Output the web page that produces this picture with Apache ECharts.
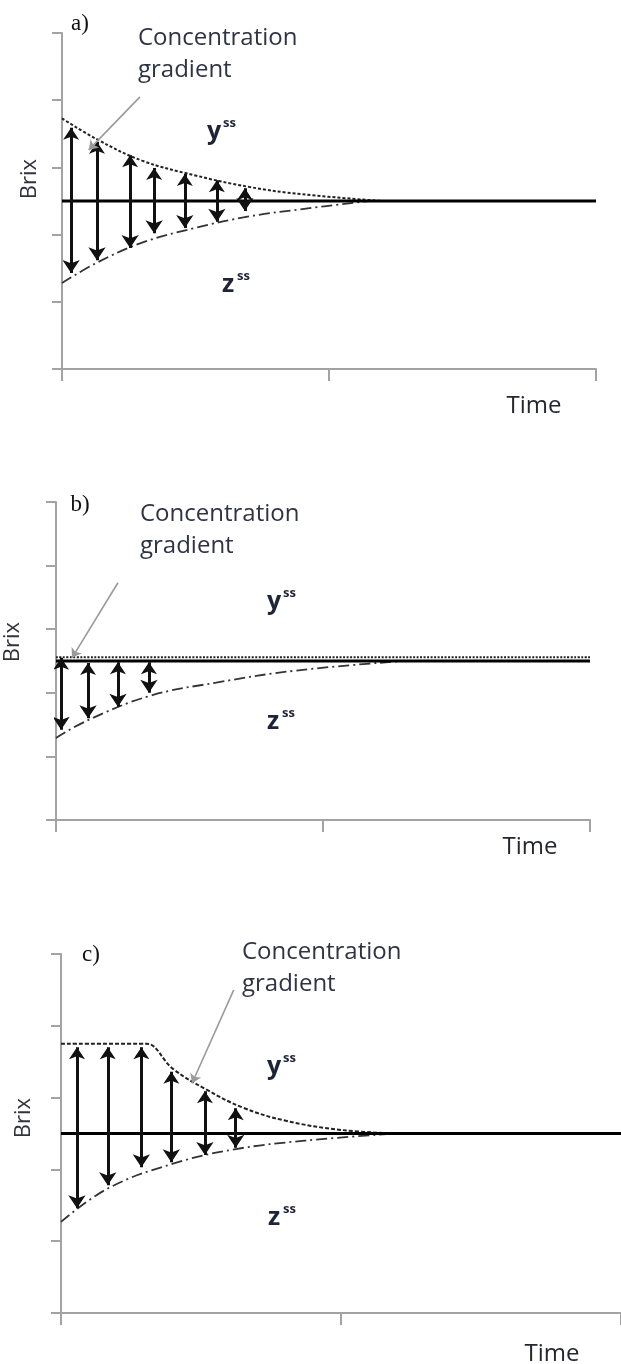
<!DOCTYPE html>
<html>
<head>
<meta charset="utf-8">
<script src="https://cdn.jsdelivr.net/npm/echarts@6/dist/echarts.min.js"></script>
<style>
  html, body { margin: 0; padding: 0; background: #fff; }
  #main { width: 621px; height: 1364px; }
</style>
</head>
<body>
<div id="main"></div>
<script>
// steady-state level (solid line) shared by all panels
const steadyLevel = 2.5;
const timeRange = [0, 2];

// panel a) : both phases decay towards the steady level
const aUpperX = [0, 0.13, 0.3, 0.5, 0.7, 0.9, 1.2];
const aUpperY = [3.73, 3.42, 3.10, 2.88, 2.71, 2.60, 2.5];
const aLowerX = [0, 0.13, 0.3, 0.5, 0.7, 0.9, 1.15];
const aLowerY = [1.28, 1.58, 1.88, 2.10, 2.27, 2.38, 2.5];
const aArrowX = [0.034, 0.131, 0.255, 0.345, 0.46, 0.58, 0.685];
const aArrowTop = [3.59, 3.38, 3.18, 2.99, 2.90, 2.81, 2.69];
const aArrowBottom = [1.43, 1.62, 1.80, 2.02, 2.10, 2.19, 2.35];

// panel b) : upper phase already at steady state
const bUpperX = [0, 2];
const bUpperY = [2.56, 2.56];
const bLowerX = [0, 0.12, 0.35, 0.6, 0.9, 1.3];
const bLowerY = [1.29, 1.57, 1.95, 2.16, 2.35, 2.5];
const bArrowX = [0.019, 0.12, 0.232, 0.348];
const bArrowTop = [2.55, 2.47, 2.48, 2.48];
const bArrowBottom = [1.42, 1.60, 1.78, 2.0];

// panel c) : upper phase held constant, then decays
const cUpperX = [0, 0.28, 0.305, 0.4, 0.52, 0.65, 0.8, 1.0, 1.2];
const cUpperY = [3.75, 3.75, 3.75, 3.40, 3.11, 2.86, 2.68, 2.55, 2.5];
const cLowerX = [0, 0.17, 0.4, 0.62, 0.87, 1.2];
const cLowerY = [1.27, 1.74, 2.08, 2.28, 2.40, 2.5];
const cArrowX = [0.057, 0.167, 0.287, 0.394, 0.514, 0.624];
const cArrowTop = [3.70, 3.70, 3.70, 3.36, 3.09, 2.85];
const cArrowBottom = [1.46, 1.78, 2.03, 2.10, 2.20, 2.30];

// "Concentration gradient" pointer, [from, to] in data units
const aPointer = [[0.292, 4.05], [0.10, 3.26]];
const bPointer = [[0.232, 3.73], [0.06, 2.55]];
const cPointer = [[0.617, 4.50], [0.468, 3.20]];

const panelLetters = ['a)', 'b)', 'c)'];

const pair = (xs, ys) => xs.map((x, i) => [x, ys[i]]);
const arrowsOf = (xs, tops, bottoms) => xs.map((x, i) => ({ coords: [[x, tops[i]], [x, bottoms[i]]] }));

const panels = [
  { grid: { left: 62, top: 33, width: 534, height: 336 },
    upper: pair(aUpperX, aUpperY), lower: pair(aLowerX, aLowerY),
    arrows: arrowsOf(aArrowX, aArrowTop, aArrowBottom), pointer: aPointer, dotted: [3, 2] },
  { grid: { left: 56, top: 502, width: 534, height: 318 },
    upper: pair(bUpperX, bUpperY), lower: pair(bLowerX, bLowerY),
    arrows: arrowsOf(bArrowX, bArrowTop, bArrowBottom), pointer: bPointer, dotted: [2, 1.5] },
  { grid: { left: 61, top: 954, width: 564, height: 359 },
    upper: pair(cUpperX, cUpperY), lower: pair(cLowerX, cLowerY),
    arrows: arrowsOf(cArrowX, cArrowTop, cArrowBottom), pointer: cPointer, dotted: [4, 2] }
];

const axisGray = '#a3a3a3';
const grid = [], xAxis = [], yAxis = [], series = [];

panels.forEach((p, i) => {
  grid.push(p.grid);
  xAxis.push({
    gridIndex: i, type: 'value', min: timeRange[0], max: timeRange[1], interval: 1,
    axisLine: { lineStyle: { color: axisGray, width: 2 } },
    axisTick: { length: 12, lineStyle: { color: axisGray, width: 2 } },
    axisLabel: { show: false }, splitLine: { show: false }
  });
  yAxis.push({
    gridIndex: i, type: 'value', min: 0, max: 5, interval: 1,
    axisLine: { lineStyle: { color: axisGray, width: 2 } },
    axisTick: { length: 10, lineStyle: { color: axisGray, width: 2 } },
    axisLabel: { show: false }, splitLine: { show: false }
  });
  series.push(
    { type: 'line', xAxisIndex: i, yAxisIndex: i, data: [[timeRange[0], steadyLevel], [timeRange[1], steadyLevel]],
      showSymbol: false, lineStyle: { color: '#000', width: 3 }, z: 3 },
    { type: 'line', xAxisIndex: i, yAxisIndex: i, data: p.upper, smooth: 0.4,
      showSymbol: false, lineStyle: { color: '#222', width: 2, type: p.dotted }, z: 2 },
    { type: 'line', xAxisIndex: i, yAxisIndex: i, data: p.lower, smooth: 0.4,
      showSymbol: false, lineStyle: { color: '#333', width: 1.8, type: [11, 4, 2, 4] }, z: 2 },
    { type: 'lines', coordinateSystem: 'cartesian2d', xAxisIndex: i, yAxisIndex: i, data: p.arrows,
      symbol: ['arrow', 'arrow'], symbolSize: [12, 13],
      lineStyle: { color: '#111', width: 3, opacity: 1 }, z: 4 },
    { type: 'lines', coordinateSystem: 'cartesian2d', xAxisIndex: i, yAxisIndex: i, data: [{ coords: p.pointer }],
      symbol: ['none', 'arrow'], symbolSize: 9,
      lineStyle: { color: '#9a9a9a', width: 1.6, opacity: 1 }, z: 5 }
  );
});

// text placement (pixels)
const textSpots = [
  { letter: [80, 24], conc: [138, 38], y: [207, 132], z: [222, 285], brix: [30, 179], time: [534, 406] },
  { letter: [80, 505], conc: [140, 514], y: [267, 602], z: [267, 722], brix: [13, 642], time: [530, 847] },
  { letter: [91, 955], conc: [242, 952], y: [267, 1067], z: [268, 1218], brix: [24, 1118], time: [552, 1354] }
];

const textColor = '#2f3445';
const txt = (x, y, text, font, fill, align) => ({
  type: 'text', x, y,
  style: { text, font, fill, textAlign: align || 'left', textVerticalAlign: 'middle' }
});

const graphic = [];
textSpots.forEach((t, i) => {
  graphic.push(txt(t.letter[0], t.letter[1], panelLetters[i], '23px "Liberation Serif"', '#111', 'center'));
  graphic.push(txt(t.conc[0], t.conc[1], 'Concentration', '500 24px "Open Sans"', textColor));
  graphic.push(txt(t.conc[0], t.conc[1] + 32, 'gradient', '500 24px "Open Sans"', textColor));
  graphic.push(txt(t.y[0], t.y[1], 'y', 'bold 25px "Open Sans"', '#1e2438'));
  graphic.push(txt(t.y[0] + 16, t.y[1] - 9, 'ss', 'bold 13px "Open Sans"', '#1e2438'));
  graphic.push(txt(t.z[0], t.z[1], 'z', 'bold 25px "Open Sans"', '#1e2438'));
  graphic.push(txt(t.z[0] + 15, t.z[1] - 9, 'ss', 'bold 13px "Open Sans"', '#1e2438'));
  graphic.push({
    type: 'text', x: t.brix[0], y: t.brix[1], rotation: Math.PI / 2,
    style: { text: 'Brix', font: '500 22px "Open Sans"', fill: '#33333d', textAlign: 'center', textVerticalAlign: 'middle' }
  });
  graphic.push(txt(t.time[0], t.time[1], 'Time', '500 24px "Open Sans"', '#262633', 'center'));
});

const chart = echarts.init(document.getElementById('main'));
chart.setOption({
  backgroundColor: '#fff',
  animation: false,
  grid, xAxis, yAxis, series, graphic
});
window.addEventListener('resize', () => chart.resize());
</script>
</body>
</html>
